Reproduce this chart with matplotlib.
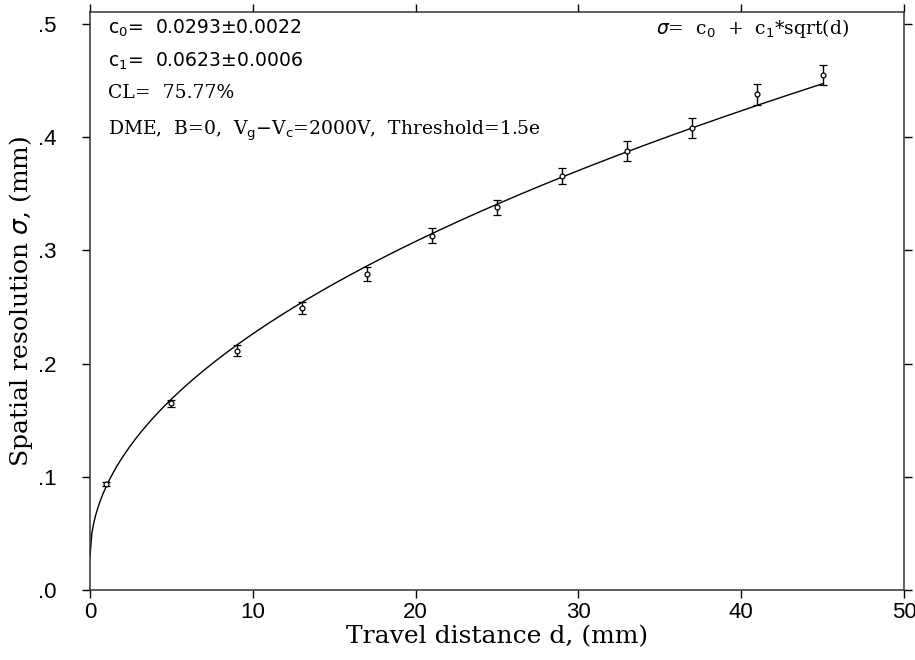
import numpy as np
import matplotlib
matplotlib.use("Agg")
import matplotlib.pyplot as plt
from matplotlib.ticker import FuncFormatter

# Data
distance = [1, 5, 9, 13, 17, 21, 25, 29, 33, 37, 41, 45]
sigma = [0.0935, 0.165, 0.2115, 0.249, 0.279, 0.313, 0.338, 0.366, 0.388, 0.408, 0.438, 0.455]
sigma_err = [0.002, 0.003, 0.005, 0.0055, 0.006, 0.0065, 0.0068, 0.0072, 0.0087, 0.0086, 0.0093, 0.0088]

# Fit parameters (shown in the chart)
c0 = 0.0293
c1 = 0.0623

x_ticks = [0, 10, 20, 30, 40, 50]
y_ticks = [0.0, 0.1, 0.2, 0.3, 0.4, 0.5]

fig = plt.figure(figsize=(9.15, 6.6), dpi=100)
ax = fig.add_axes([90/915, 70/660, 814/915, 578/660])

d = np.linspace(0, max(distance), 400)
ax.plot(d, c0 + c1*np.sqrt(d), color='black', lw=1.0)
ax.errorbar(distance, sigma, yerr=sigma_err, fmt='o', ms=3.5, mfc='white', mec='black',
            mew=0.9, ecolor='black', elinewidth=1.0, capsize=3, capthick=1.0)

ax.set_xlim(0, 50)
ax.set_ylim(0, 0.5106)
ax.set_xticks(x_ticks)
ax.set_yticks(y_ticks)
ax.yaxis.set_major_formatter(FuncFormatter(lambda v, p: f"{v:.1f}".lstrip('0')))
ax.tick_params(direction='out', length=6, width=1.0, top=True, right=True,
               labeltop=False, labelright=False, labelsize=16, colors='black')
ax.tick_params(axis='y', pad=18)
ax.tick_params(axis='x', pad=3)
for lab in ax.get_xticklabels() + ax.get_yticklabels():
    lab.set_family(['Liberation Sans', 'DejaVu Sans'])
for s in ax.spines.values():
    s.set_linewidth(1.1)
    s.set_color('#333333')

serif = ['DejaVu Serif']
ax.set_xlabel('Travel distance d, (mm)', family=serif, fontsize=18, labelpad=1)
ax.set_ylabel(r'Spatial resolution $\sigma$, (mm)', family=serif, fontsize=18, labelpad=2)

fs = 13.5
ax.text(0.022, 0.972, r'c$_0$=  0.0293$\pm$0.0022', transform=ax.transAxes, fontsize=fs,
        va='center', ha='left', family=['DejaVu Sans'])
ax.text(0.022, 0.915, r'c$_1$=  0.0623$\pm$0.0006', transform=ax.transAxes, fontsize=fs,
        va='center', ha='left', family=['DejaVu Sans'])
ax.text(0.022, 0.860, 'CL=  75.77%', transform=ax.transAxes, fontsize=fs,
        va='center', ha='left', family=serif)
ax.text(0.022, 0.795, r'DME,  B=0,  V$_{\rm g}$$-$V$_{\rm c}$=2000V,  Threshold=1.5e',
        transform=ax.transAxes, fontsize=fs, va='center', ha='left', family=serif)
ax.text(0.932, 0.972, r'$\sigma$=  c$_0$  +  c$_1$*sqrt(d)', transform=ax.transAxes,
        fontsize=fs, va='center', ha='right', family=serif)

fig.savefig('out.png', dpi=100)
